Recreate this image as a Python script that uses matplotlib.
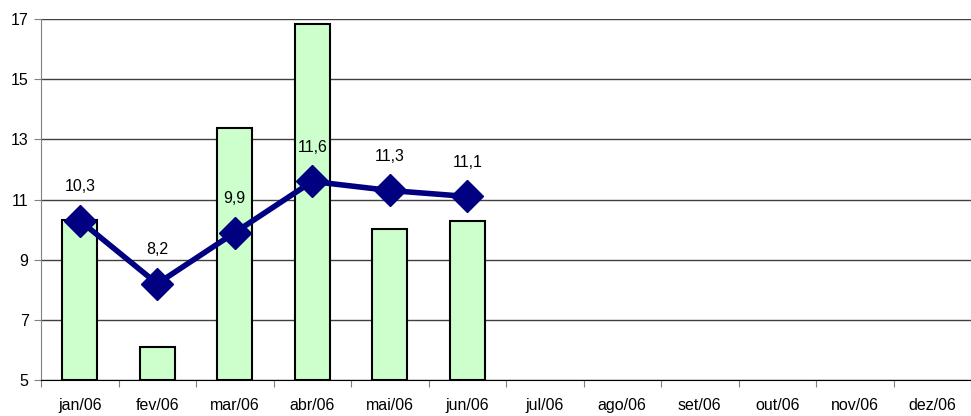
import matplotlib
matplotlib.use('Agg')
import matplotlib.pyplot as plt
import numpy as np

# dados
meses = ['jan/06', 'fev/06', 'mar/06', 'abr/06', 'mai/06', 'jun/06',
         'jul/06', 'ago/06', 'set/06', 'out/06', 'nov/06', 'dez/06']
barras = [10.33, 6.1, 13.37, 16.83, 10.03, 10.27]
linha = [10.3, 8.2, 9.9, 11.6, 11.3, 11.1]
rotulos = ['10,3', '8,2', '9,9', '11,6', '11,3', '11,1']

plt.rcParams['font.family'] = ['Liberation Sans', 'DejaVu Sans']
plt.rcParams['font.size'] = 11.5

fig = plt.figure(figsize=(9.71, 4.16), dpi=100)
ax = fig.add_axes([41/971, 1 - 380/416, 930/971, 361/416])

x = np.arange(len(barras))
ax.bar(x, np.array(barras) - 5, bottom=5, width=0.45, color='#CCFFCC',
       edgecolor='black', linewidth=1.5, zorder=2)
ax.plot(x, linha, color='#000080', lw=4, marker='D', markersize=16, zorder=3)
for xi, yi, t in zip(x, linha, rotulos):
    ax.annotate(t, (xi, yi), xytext=(0, 19), textcoords='offset points',
                ha='center', va='bottom', fontsize=11.5)

ax.set_xlim(-0.5, 11.5)
ax.set_ylim(5, 17)
ax.set_yticks(range(5, 18, 2))
ax.yaxis.grid(True, color='#404040', lw=1, zorder=0)
ax.set_axisbelow(True)

# ticks nas divisões, rótulos no centro
ax.set_xticks(np.arange(-0.5, 12, 1))
ax.set_xticklabels([])
ax.set_xticks(np.arange(12), minor=True)
ax.set_xticklabels(meses, minor=True)
ax.tick_params(axis='x', which='minor', length=0, pad=13, labelsize=11.5)
ax.tick_params(axis='x', which='major', length=5, color='#808080', direction='out')
ax.tick_params(axis='y', length=5, color='#808080', labelsize=11.5, pad=4)

ax.spines['top'].set_visible(False)
ax.spines['right'].set_visible(False)
ax.spines['left'].set_color('#808080')
ax.spines['bottom'].set_color('black')

fig.savefig('out.png', dpi=100)
